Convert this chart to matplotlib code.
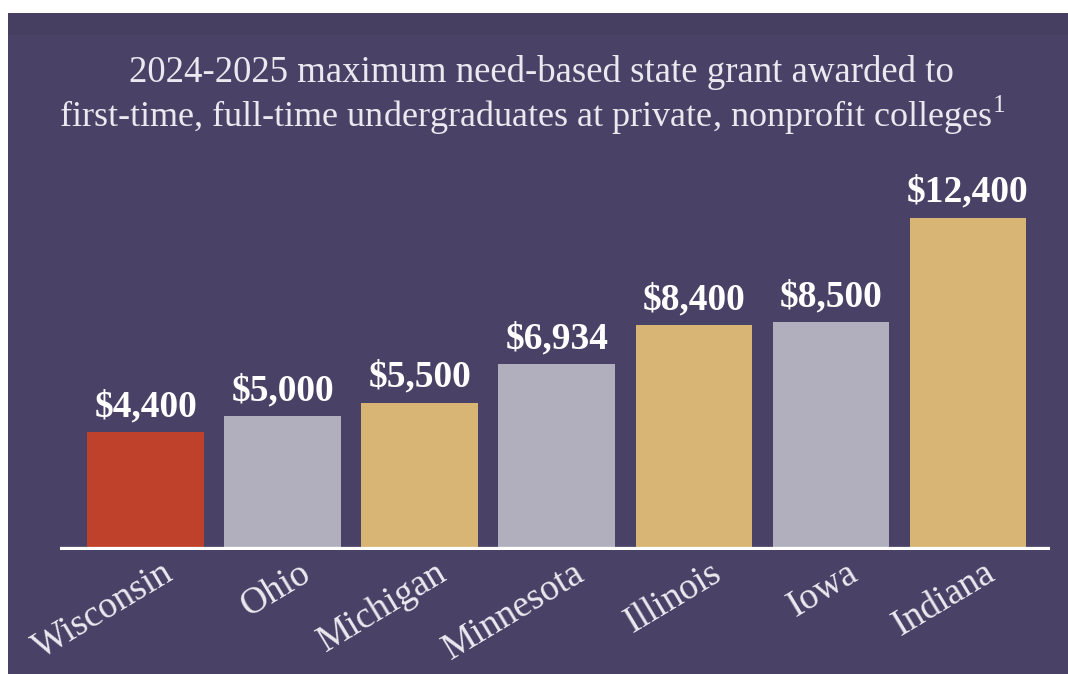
import matplotlib.pyplot as plt
import matplotlib.transforms as mtrans
from matplotlib.patches import Rectangle

# data
states = ['Wisconsin', 'Ohio', 'Michigan', 'Minnesota', 'Illinois', 'Iowa', 'Indiana']
grants = [4400, 5000, 5500, 6934, 8400, 8500, 12400]
bar_colors = ['#c0412b', '#b1afbe', '#d8b574', '#b1afbe', '#d8b574', '#b1afbe', '#d8b574']

bg = '#4a4266'
serif = ['Liberation Serif', 'DejaVu Serif']

fig = plt.figure(figsize=(10.68, 6.74), dpi=100)
fig.patch.set_facecolor('white')
# purple panel with slightly darker strip along the top
fig.patches.append(Rectangle((8/1068, 0), 1, 1 - 13/674, transform=fig.transFigure,
                             facecolor=bg, edgecolor='none', zorder=0))
fig.patches.append(Rectangle((8/1068, 1 - 35/674), 1, 22/674, transform=fig.transFigure,
                             facecolor='#463f61', edgecolor='none', zorder=0))

# axes: baseline at y=550px, x from 60 to 1050px
ax = fig.add_axes([60/1068, (674-550)/674, 990/1068, 440/674])
ax.set_zorder(2)
ax.set_facecolor('none')
ax.set_xlim(-0.625, 6.6)
ax.set_ylim(0, 12400 * 440 / 332)

x = range(len(states))
ax.bar(x, grants, width=0.85, color=bar_colors, zorder=2)
ax.axhline(0, color='white', lw=4.5, zorder=3)

for i, v in zip(x, grants):
    ax.text(i, v + 300, f'${v:,}', ha='center', va='bottom', color='white',
            fontsize=27, fontweight='bold', family=serif)

for s in ax.spines.values():
    s.set_visible(False)
ax.set_yticks([])
ax.set_xticks(list(x))
ax.set_xticklabels(states, rotation=31, ha='right', va='top', rotation_mode='anchor',
                   color='#ebe8f0', fontsize=27, family=serif)
ax.tick_params(axis='x', length=0, pad=4)
off = mtrans.ScaledTranslation(16/100, 0, fig.dpi_scale_trans)
for lbl in ax.get_xticklabels():
    lbl.set_transform(lbl.get_transform() + off)

fig.text(541/1068, 1 - 73/674, '2024-2025 maximum need-based state grant awarded to',
         ha='center', va='center', color='#ebe8f0', fontsize=26.5, family=serif)
fig.text(532/1068, 1 - 115/674,
         'first-time, full-time undergraduates at private, nonprofit colleges$^{\\mathregular{1}}$',
         ha='center', va='center', color='#ebe8f0', fontsize=26, family=serif)

plt.savefig('out.png', dpi=100, facecolor=fig.get_facecolor())
